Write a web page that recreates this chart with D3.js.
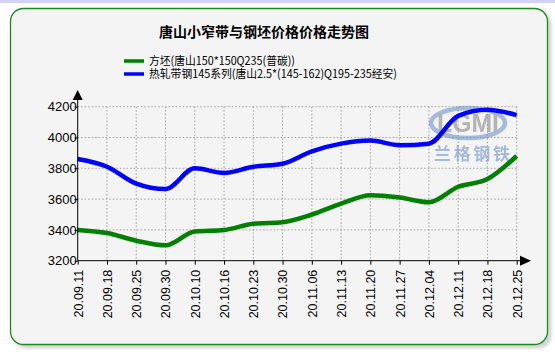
<!DOCTYPE html>
<html>
<head>
<meta charset="utf-8">
<script src="https://cdn.jsdelivr.net/npm/d3@7"></script>
<style>
  body { margin: 0; background: #ffffff; }
  svg { display: block; font-family: Arial, "Liberation Sans", "Noto Sans CJK SC", sans-serif; }
</style>
</head>
<body>
<div id="chart"></div>
<script>
// Categories (dates) and series values
var dates = ["20.09.11", "20.09.18", "20.09.25", "20.09.30", "20.10.10", "20.10.16", "20.10.23", "20.10.30",
  "20.11.06", "20.11.13", "20.11.20", "20.11.27", "20.12.04", "20.12.11", "20.12.18", "20.12.25"];
var billet = [3400, 3380, 3330, 3300, 3390, 3400, 3440, 3450, 3500, 3570, 3625, 3610, 3580, 3680, 3730, 3880];
var strip = [3860, 3810, 3700, 3665, 3800, 3770, 3810, 3830, 3910, 3960, 3980, 3950, 3960, 4140, 4180, 4145];
var yTicks = [3200, 3400, 3600, 3800, 4000, 4200];
var seriesNames = ["方坯(唐山150*150Q235(普碳))", "热轧带钢145系列(唐山2.5*(145-162)Q195-235经安)"];
var seriesColors = ["#008000", "#0000ff"];

var width = 555, height = 354;
var svg = d3.select("#chart").append("svg")
  .attr("width", width)
  .attr("height", height);

// top lavender strip
svg.append("rect").attr("x", 0).attr("y", 0).attr("width", width).attr("height", 3).attr("fill", "#d2d2fa");

// panel shadow and panel
svg.append("rect")
  .attr("x", 13.5).attr("y", 11.5).attr("width", 538).attr("height", 337)
  .attr("rx", 13).attr("fill", "#b8b8b8").attr("opacity", 0.6)
  .style("filter", "blur(1.5px)");
svg.append("rect")
  .attr("x", 10.5).attr("y", 8.5).attr("width", 537).attr("height", 336)
  .attr("rx", 13)
  .attr("fill", "#f4f4f4")
  .attr("stroke", "#1a8c1a")
  .attr("stroke-width", 1.3);

// Title
svg.append("text")
  .attr("x", 264).attr("y", 37)
  .attr("text-anchor", "middle")
  .attr("font-size", 14).attr("font-weight", "bold")
  .attr("fill", "#000")
  .style("font-family", "'Noto Sans CJK SC', sans-serif")
  .text("唐山小窄带与钢坯价格价格走势图");

// Legend
var legend = svg.append("g").attr("transform", "translate(124,61)");
seriesNames.forEach(function(name, i) {
  legend.append("line")
    .attr("x1", 0).attr("x2", 20)
    .attr("y1", i * 13).attr("y2", i * 13)
    .attr("stroke", seriesColors[i]).attr("stroke-width", 3.5);
  legend.append("text")
    .attr("x", 25).attr("y", i * 13 + 4.3)
    .attr("font-size", 11.5)
    .attr("fill", "#000")
    .style("font-family", "'Liberation Sans Narrow', 'Noto Sans CJK SC', sans-serif")
    .attr("textLength", i === 0 ? 146 : 248)
    .attr("lengthAdjust", "spacingAndGlyphs")
    .text(name);
});

// Scales
var x = d3.scalePoint().domain(dates).range([77.7, 516.7]);
var y = d3.scaleLinear().domain([3200, 4200]).range([260.7, 106.7]);

// Grid
var grid = svg.append("g");
grid.selectAll(".vgrid").data(dates.slice(1)).enter().append("line")
  .attr("x1", function(d) { return x(d); }).attr("x2", function(d) { return x(d); })
  .attr("y1", y(4200)).attr("y2", y(3200))
  .attr("stroke", "#a0a0a0").attr("stroke-dasharray", "1.5,2").attr("stroke-width", 1);
grid.selectAll(".hgrid").data(yTicks.slice(1)).enter().append("line")
  .attr("x1", x(dates[0])).attr("x2", x(dates[dates.length - 1]))
  .attr("y1", function(d) { return y(d); }).attr("y2", function(d) { return y(d); })
  .attr("stroke", "#a0a0a0").attr("stroke-dasharray", "1.5,2").attr("stroke-width", 1);

// Watermark
var wm = svg.append("g").attr("opacity", 0.6);
wm.append("ellipse").attr("cx", 468).attr("cy", 123).attr("rx", 37).attr("ry", 15)
  .attr("fill", "none").attr("stroke", "#6f95cc").attr("stroke-width", 4.5);
wm.append("text").attr("x", 468).attr("y", 132).attr("text-anchor", "middle")
  .attr("font-size", 25).attr("font-weight", "bold").attr("fill", "#8a8a8a")
  .attr("textLength", 62).attr("lengthAdjust", "spacingAndGlyphs")
  .style("font-family", "'Liberation Sans', sans-serif").text("LGMI");
wm.append("text").attr("x", 472).attr("y", 160).attr("text-anchor", "middle")
  .attr("font-size", 17).attr("font-weight", "bold").attr("fill", "#6f95cc")
  .attr("textLength", 76).attr("lengthAdjust", "spacing")
  .style("font-family", "'Noto Sans CJK SC', sans-serif").text("兰格钢铁");

// Lines
var series = [billet, strip];
var line = d3.line()
  .x(function(d, i) { return x(dates[i]); })
  .y(function(d) { return y(d); })
  .curve(d3.curveMonotoneX);
series.forEach(function(s, k) {
  svg.append("path")
    .datum(s)
    .attr("d", line)
    .attr("fill", "none")
    .attr("stroke", seriesColors[k])
    .attr("stroke-width", 4.5)
    .attr("stroke-linejoin", "round");
});

// Y axis
var yAxis = svg.append("g")
  .attr("transform", "translate(" + x(dates[0]) + ",0)")
  .call(d3.axisLeft(y).tickValues(yTicks).tickSize(3).tickFormat(d3.format("d")));
yAxis.select(".domain").attr("d", "M0," + y(3200) + "V96").attr("stroke", "#000");
yAxis.selectAll("text").attr("font-size", 13).attr("fill", "#000").attr("x", -1)
  .style("font-family", "'Liberation Sans', Arial, sans-serif");
svg.append("path")
  .attr("d", "M" + (x(dates[0]) - 5) + ",100L" + x(dates[0]) + ",90L" + (x(dates[0]) + 5) + ",100Z")
  .attr("fill", "#000");

// X axis
var xAxis = svg.append("g")
  .attr("transform", "translate(0," + y(3200) + ")")
  .call(d3.axisBottom(x).tickSize(4).tickSizeOuter(0));
xAxis.select(".domain").attr("d", "M" + x(dates[0]) + ",0H528").attr("stroke", "#000");
xAxis.selectAll("text")
  .attr("font-size", 12.5).attr("fill", "#000")
  .attr("transform", "rotate(-90)")
  .attr("text-anchor", "end")
  .attr("x", -9).attr("y", 0).attr("dy", "0.35em")
  .style("font-family", "'Liberation Sans', Arial, sans-serif");
svg.append("path")
  .attr("d", "M520," + (y(3200) - 5) + "L531," + y(3200) + "L520," + (y(3200) + 5) + "Z")
  .attr("fill", "#000");
</script>
</body>
</html>
